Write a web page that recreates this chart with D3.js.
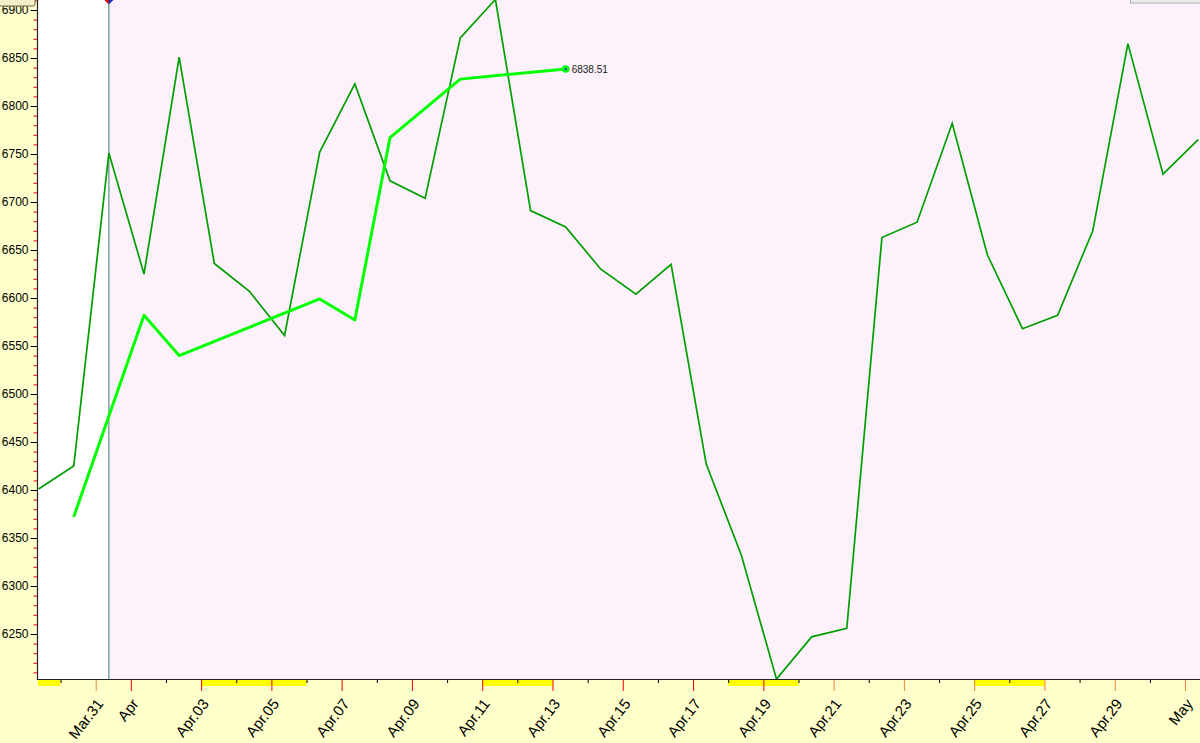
<!DOCTYPE html>
<html><head><meta charset="utf-8">
<script src="https://cdn.jsdelivr.net/npm/d3@7"></script>
<style>html,body{margin:0;padding:0;background:#ffffcc;overflow:hidden}</style>
</head><body><svg id="c" width="1200" height="743"></svg>
<script>
// ---------- DATA ----------
const dates = ["2015-03-29 09:00","2015-03-30 09:00","2015-03-31 09:00","2015-04-01 09:00","2015-04-02 09:00",
  "2015-04-03 09:00","2015-04-04 09:00","2015-04-05 09:00","2015-04-06 09:00","2015-04-07 09:00","2015-04-08 09:00",
  "2015-04-09 09:00","2015-04-10 09:00","2015-04-11 09:00","2015-04-12 09:00","2015-04-13 09:00","2015-04-14 09:00",
  "2015-04-15 09:00","2015-04-16 09:00","2015-04-17 09:00","2015-04-18 09:00","2015-04-19 09:00","2015-04-20 09:00",
  "2015-04-21 09:00","2015-04-22 09:00","2015-04-23 09:00","2015-04-24 09:00","2015-04-25 09:00","2015-04-26 09:00",
  "2015-04-27 09:00","2015-04-28 09:00","2015-04-29 09:00","2015-04-30 09:00","2015-05-01 09:00"];
const values = [6401,6425,6751,6625,6851,6636,6607,6561,6752,6823,6722,6704,6871,6911,6691,6674,6630,
  6604,6635,6427,6332,6203,6247,6256,6663,6679,6782,6645,6568,6582,6670,6865,6729,6765];

const avgDates = ["2015-03-30 09:00","2015-04-01 09:00","2015-04-02 09:00","2015-04-06 09:00",
  "2015-04-07 09:00","2015-04-08 09:00","2015-04-10 09:00","2015-04-13 09:00"];
const avgValues = [6372,6582,6540,6599,6577,6767,6828,6838.51];

const yTicks = [6250,6300,6350,6400,6450,6500,6550,6600,6650,6700,6750,6800,6850,6900];
const xTickDates = ["2015-03-31","2015-04-01","2015-04-03","2015-04-05","2015-04-07","2015-04-09","2015-04-11",
  "2015-04-13","2015-04-15","2015-04-17","2015-04-19","2015-04-21","2015-04-23","2015-04-25","2015-04-27",
  "2015-04-29","2015-05-01"];
const xTickLabels = ["Mar.31","Apr","Apr.03","Apr.05","Apr.07","Apr.09","Apr.11","Apr.13","Apr.15","Apr.17",
  "Apr.19","Apr.21","Apr.23","Apr.25","Apr.27","Apr.29","May"];
const xMinorDates = ["2015-03-30","2015-04-02","2015-04-04","2015-04-06","2015-04-08","2015-04-10","2015-04-12",
  "2015-04-14","2015-04-16","2015-04-18","2015-04-20","2015-04-22","2015-04-24","2015-04-26","2015-04-28","2015-04-30"];
const shadedRanges = [["2015-03-28","2015-03-30"],["2015-04-03","2015-04-06"],["2015-04-11","2015-04-13"],
  ["2015-04-18","2015-04-20"],["2015-04-25","2015-04-27"]];
const cursorDate = "2015-03-31 09:00";
const lastLabel = "6838.51";

// ---------- DRAW ----------
const pT = d3.timeParse("%Y-%m-%d %H:%M");
const pD = d3.timeParse("%Y-%m-%d");
const L = 38, R = 1200, T = 0, B = 679;
const svg = d3.select("#c");
const x = d3.scaleTime().domain([pD("2015-03-31"), pD("2015-05-01")]).range([95.7, 1185]);
const y = d3.scaleLinear().domain([6250, 6900]).range([634, 10]);
const font = "'Liberation Sans', Arial, sans-serif";

svg.append("rect").attr("width",1200).attr("height",743).attr("fill","#ffffcc");
const cx = x(pT(cursorDate));
svg.append("rect").attr("x",L).attr("y",T).attr("width",cx-L).attr("height",B-T).attr("fill","#ffffff");
svg.append("rect").attr("x",cx).attr("y",T).attr("width",R-cx).attr("height",B-T).attr("fill","#fdf2fb");

svg.append("defs").append("clipPath").attr("id","clip").append("rect")
  .attr("x",L).attr("y",T).attr("width",R-L).attr("height",B-T);

// shaded bars under axis
svg.selectAll(".shade").data(shadedRanges).enter().append("rect")
  .attr("x",d=>Math.max(L,x(pD(d[0])))).attr("y",B+1)
  .attr("width",d=>x(pD(d[1]))-Math.max(L,x(pD(d[0])))).attr("height",6).attr("fill","#ffff00");

// Y axis
const orange = new Set(["Mar.31","Apr.21","Apr.23","Apr.25","Apr.27","Apr.29","May"]);
const minorY = d3.range(6210, 6911, 10).filter(v=>v%50!==0);
const gyMinor = svg.append("g").attr("transform",`translate(${L-0.5},0)`)
  .call(d3.axisLeft(y).tickValues(minorY).tickSize(4).tickFormat(""));
gyMinor.select(".domain").remove();
gyMinor.selectAll("line").attr("stroke","#e00000");
const gy = svg.append("g").attr("transform",`translate(${L-0.5},0)`)
  .call(d3.axisLeft(y).tickValues(yTicks).tickSize(7).tickPadding(2).tickFormat(d3.format("d")));
gy.select(".domain").remove();
gy.selectAll("line").attr("stroke","#000");
gy.selectAll("text").attr("font-family",font).attr("font-size","12px").attr("fill","#000");
svg.append("line").attr("x1",L-0.5).attr("x2",L-0.5).attr("y1",0).attr("y2",B+1).attr("stroke","#222").attr("stroke-width",1.2);

// X axis
const gxMinor = svg.append("g").attr("transform",`translate(0,${B})`)
  .call(d3.axisBottom(x).tickValues(xMinorDates.map(pD)).tickSize(4).tickFormat(""));
gxMinor.select(".domain").remove();
gxMinor.selectAll("line").attr("stroke","#000");
const gx = svg.append("g").attr("transform",`translate(0,${B})`)
  .call(d3.axisBottom(x).tickValues(xTickDates.map(pD)).tickSize(12).tickFormat((d,i)=>xTickLabels[i]));
gx.select(".domain").remove();
gx.selectAll("line").attr("stroke",(d,i)=>orange.has(xTickLabels[i])?"#f0843c":"#ff0000");
gx.selectAll("text").attr("font-family",font).attr("font-size","15px").attr("fill","#000")
  .attr("text-anchor","end").attr("dy",0).attr("y",0)
  .attr("transform","translate(8,25) rotate(-52)");
svg.append("line").attr("x1",L-1).attr("x2",R).attr("y1",B+0.5).attr("y2",B+0.5).attr("stroke","#222").attr("stroke-width",1.2);

// cursor line
svg.append("line").attr("x1",cx).attr("x2",cx).attr("y1",0).attr("y2",B).attr("stroke","#3d7b7b").attr("stroke-width",1);

// lines
const plot = svg.append("g").attr("clip-path","url(#clip)");
const line = d3.line().x(d=>x(d[0])).y(d=>y(d[1]));
plot.append("path").datum(dates.map((d,i)=>[pT(d),values[i]])).attr("d",line)
  .attr("fill","none").attr("stroke","#009e00").attr("stroke-width",1.7).attr("stroke-linejoin","miter");
const avg = avgDates.map((d,i)=>[pT(d),avgValues[i]]);
plot.append("path").datum(avg).attr("d",line)
  .attr("fill","none").attr("stroke","#00ff00").attr("stroke-width",3).attr("stroke-linejoin","round");
const last = avg[avg.length-1];
plot.append("circle").attr("cx",x(last[0])).attr("cy",y(last[1])).attr("r",3.8).attr("fill","#00ff00");
plot.append("circle").attr("cx",x(last[0])).attr("cy",y(last[1])).attr("r",1).attr("fill","#0000ff");
svg.append("text").attr("x",x(last[0])+6).attr("y",y(last[1])+3.6).text(lastLabel)
  .attr("font-family",font).attr("font-size","10px").attr("fill","#222");

// cursor diamond
svg.append("path").attr("d",`M${cx-4.5},0 L${cx},-4.5 L${cx},4.5 Z`).attr("fill","#e00000");
svg.append("path").attr("d",`M${cx},-4.5 L${cx+4.5},0 L${cx},4.5 Z`).attr("fill","#1030d0");

// clipped boxes at top
svg.append("rect").attr("x",-3).attr("y",-12).attr("width",38).attr("height",18).attr("rx",2)
  .attr("fill","#f3efc8").attr("stroke","#7a6a40");
svg.append("rect").attr("x",1130.5).attr("y",-20).attr("width",80).attr("height",23)
  .attr("fill","#ececec").attr("stroke","#b0b0b0");
</script></body></html>
